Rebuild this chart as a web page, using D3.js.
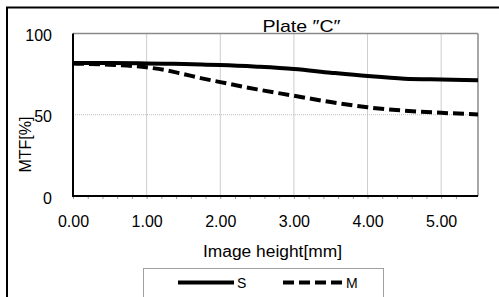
<!DOCTYPE html>
<html>
<head>
<meta charset="utf-8">
<script src="https://cdn.jsdelivr.net/npm/d3@7"></script>
<style>
  body { margin: 0; background: #fff; }
  svg { display: block; }
  text { font-family: "Liberation Sans", Arial, sans-serif; fill: #000; }
</style>
</head>
<body>
<svg id="chart" width="499" height="297"></svg>
<script>
// ---- data ----
const title = "Plate \u2033C\u2033";
const xTitle = "Image height[mm]";
const yTitle = "MTF[%]";
const seriesNames = ["S", "M"];
const imageHeight = [0, 0.5, 1.0, 1.25, 1.5, 1.75, 2.0, 2.5, 3.0, 3.5, 4.0, 4.5, 5.0, 5.5];
const sValues =     [81.8, 81.8, 81.6, 81.4, 81.2, 80.9, 80.6, 79.6, 78.2, 75.9, 73.8, 72.2, 71.7, 71.3];
const mValues =     [81.5, 80.8, 79.2, 77.5, 75.0, 72.4, 70.1, 65.6, 61.7, 57.8, 54.6, 52.5, 51.2, 50.2];
const xMajorTicks = [0, 1, 2, 3, 4, 5];
const yTicks = [0, 50, 100];

// ---- layout ----
const svg = d3.select("#chart");
const x = d3.scaleLinear().domain([0, 5.5]).range([73, 478]);
const y = d3.scaleLinear().domain([0, 100]).range([196, 33.5]);

// outer frame
svg.append("rect").attr("x", 7).attr("y", 7.5).attr("width", 500).attr("height", 300)
  .attr("fill", "#fff").attr("stroke", "#000").attr("stroke-width", 2);

// grid
svg.append("g").selectAll("line").data(xMajorTicks.filter(d => d > 0)).join("line")
  .attr("x1", d => x(d)).attr("x2", d => x(d)).attr("y1", y(100)).attr("y2", y(0))
  .attr("stroke", "#9a9a9a").attr("stroke-width", 1).attr("stroke-dasharray", "1,1");
svg.append("g").selectAll("line").data([50]).join("line")
  .attr("x1", x(0)).attr("x2", x(5.5)).attr("y1", d => y(d)).attr("y2", d => y(d))
  .attr("stroke", "#bdbdbd").attr("stroke-width", 1).attr("stroke-dasharray", "1,1");

// plot border top/right (gray)
svg.append("line").attr("x1", x(0)).attr("x2", x(5.5)).attr("y1", y(100)).attr("y2", y(100))
  .attr("stroke", "#8a8a8a").attr("stroke-width", 1.5);
svg.append("line").attr("x1", x(5.5)).attr("x2", x(5.5)).attr("y1", y(100)).attr("y2", y(0))
  .attr("stroke", "#8a8a8a").attr("stroke-width", 1.5);

// x axis (minor ticks every 0.2)
const minorTicks = d3.range(0, 27).map(i => +(i * 0.2).toFixed(1));
const xAxis = d3.axisBottom(x).tickValues(minorTicks).tickSize(3).tickPadding(16.5)
  .tickFormat(d => Number.isInteger(d) ? d.toFixed(2) : "");
const gx = svg.append("g").attr("transform", `translate(0,${y(0)})`).call(xAxis);
gx.select(".domain").remove();
gx.selectAll(".tick line").attr("stroke", "#9a9a9a");
gx.selectAll("text").style("font-size", "16px").attr("fill", "#000");

// y axis
const yAxis = d3.axisLeft(y).tickValues(yTicks).tickSize(0).tickPadding(21);
const gy = svg.append("g").attr("transform", `translate(${x(0)},0)`).call(yAxis);
gy.select(".domain").remove();
gy.selectAll("text").style("font-size", "16px").attr("dy", "0.45em").attr("fill", "#000");

// axis lines black
svg.append("line").attr("x1", x(0)).attr("x2", x(0)).attr("y1", y(100)).attr("y2", y(0) + 1)
  .attr("stroke", "#000").attr("stroke-width", 2);
svg.append("line").attr("x1", x(0) - 1).attr("x2", x(5.5)).attr("y1", y(0)).attr("y2", y(0))
  .attr("stroke", "#000").attr("stroke-width", 2);

// lines
const line = d3.line().x(d => x(d[0])).y(d => y(d[1])).curve(d3.curveMonotoneX);
const sData = imageHeight.map((h, i) => [h, sValues[i]]);
const mData = imageHeight.map((h, i) => [h, mValues[i]]);
svg.append("path").datum(sData).attr("d", line).attr("fill", "none")
  .attr("stroke", "#000").attr("stroke-width", 4);
svg.append("path").datum(mData).attr("d", line).attr("fill", "none")
  .attr("stroke", "#000").attr("stroke-width", 4).attr("stroke-dasharray", "11,5");

// titles
svg.append("text").attr("x", 301.5).attr("y", 32).attr("text-anchor", "middle")
  .style("font-size", "17px").attr("textLength", 78).attr("lengthAdjust", "spacingAndGlyphs").text(title);
svg.append("text").attr("x", 272.5).attr("y", 257).attr("text-anchor", "middle")
  .style("font-size", "16px").attr("textLength", 139).attr("lengthAdjust", "spacingAndGlyphs").text(xTitle);
svg.append("text").attr("transform", "translate(31,144.5) rotate(-90)").attr("text-anchor", "middle")
  .style("font-size", "16px").text(yTitle);

// legend
const lg = svg.append("g");
lg.append("rect").attr("x", 143.5).attr("y", 268.5).attr("width", 240).attr("height", 40)
  .attr("fill", "#fff").attr("stroke", "#a0a0a0").attr("stroke-width", 1);
const legendItems = [
  { name: seriesNames[0], x0: 178, x1: 234, dash: null },
  { name: seriesNames[1], x0: 283, x1: 343, dash: "11,5" }
];
legendItems.forEach(it => {
  lg.append("line").attr("x1", it.x0).attr("x2", it.x1).attr("y1", 282.5).attr("y2", 282.5)
    .attr("stroke", "#000").attr("stroke-width", 4).attr("stroke-dasharray", it.dash);
  lg.append("text").attr("x", it.x1 + 3).attr("y", 287.5).style("font-size", "14px").text(it.name);
});
</script>
</body>
</html>
